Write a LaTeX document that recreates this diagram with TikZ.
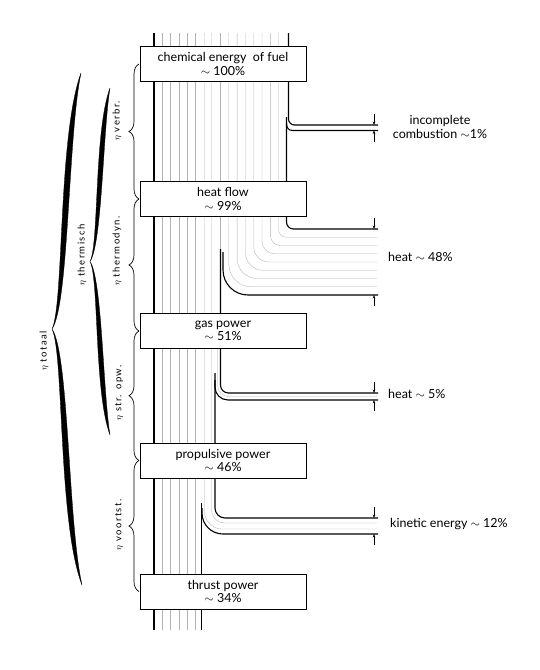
\documentclass[tikz,border=0pt]{standalone}
\usepackage{fontspec}
\setmainfont{Lato}
\newfontfamily\spacedfont[LetterSpace=15]{Lato}
\usetikzlibrary{decorations.pathreplacing,arrows.meta}
\begin{document}
\begin{tikzpicture}[x=1pt,y=-1pt,
  faint/.style={black!30, line width=0.35pt},
  boldline/.style={black, line width=1.1pt},
  stagebox/.style={draw, line width=0.6pt, fill=white, minimum width=166pt, minimum height=35pt, align=center, inner sep=1pt, font=\fontsize{12.5}{13.5}\selectfont},
  lbl/.style={font=\fontsize{12.5}{14}\selectfont, inner sep=0pt},
  etalbl/.style={rotate=90, font=\spacedfont\fontsize{9.5}{11}\selectfont, inner sep=0pt},
  dimarrow/.style={line width=0.5pt, -{Stealth[length=3.5pt,width=2.6pt]}},
  thinbrace/.style={decorate, decoration={brace, amplitude=10pt}, line width=0.7pt},
  calli/.style={fill=black, draw=black, line width=0.3pt}
]
\fill[white] (0,0) rectangle (540,670);
\path[use as bounding box] (0,0) rectangle (540,670);

% ---------- faint stream lines ----------
\foreach \k in {1,...,5}{
  \pgfmathsetmacro\xk{154+8.3125*\k}
  \draw[faint] (\xk,33) -- (\xk,630);
}
\draw[faint] (204.5,33) -- (204.5,512) .. controls (204.5,521.4) and (214.1,529) .. (221.5,529) -- (377,529);
\draw[faint] (211.5,33) -- (211.5,510) .. controls (211.5,517.2) and (217.3,523) .. (224.5,523) -- (377,523);
\draw[faint] (220.5,33) -- (220.5,249);
\foreach \k in {9,...,15}{
  \pgfmathsetmacro\xk{154+8.3125*\k}
  \pgfmathsetmacro\yk{295-(\k-8)*8.25}
  \pgfmathsetmacro\rk{25-(\k-8)*2.5}
  \pgfmathsetmacro\ya{\yk-\rk}
  \pgfmathsetmacro\yb{\yk-0.448*\rk}
  \pgfmathsetmacro\xb{\xk+0.448*\rk}
  \pgfmathsetmacro\xc{\xk+\rk}
  \draw[faint] (\xk,33) -- (\xk,\ya) .. controls (\xk,\yb) and (\xb,\yk) .. (\xc,\yk) -- (377,\yk);
}
\draw[faint] (217.8,313) -- (217.8,386) .. controls (217.8,391.8) and (222.5,396.5) .. (228.3,396.5) -- (377,396.5);

% ---------- bold stream edges ----------
\draw[boldline] (154,33) -- (154,630);
% incomplete combustion
\draw[boldline] (288.5,33) -- (288.5,119) .. controls (288.5,122.3) and (291.2,125) .. (294.5,125) -- (378,125);
\draw[boldline] (286.5,117) -- (286.5,222) .. controls (286.5,225.9) and (289.6,229) .. (293.5,229) -- (378,229);
\draw[boldline] (286.5,123) .. controls (286.5,128) and (288.5,130.5) .. (293,130.5) -- (378,130.5);
% heat 48 %
\draw[boldline] (223,252) -- (223,270) .. controls (223,283.8) and (234.2,295) .. (248,295) -- (378,295);
\draw[boldline] (220.5,249) -- (220.5,385) .. controls (220.5,389.4) and (224.1,393) .. (228.5,393) -- (378,393);
% heat 5 %
\draw[boldline] (215,373) -- (215,508) .. controls (215,513.5) and (219.5,518) .. (225,518) -- (378,518);
\draw[boldline] (215,380) -- (215,387) .. controls (215,394.2) and (220.8,400) .. (228,400) -- (378,400);
% kinetic energy
\draw[boldline] (201.5,503) -- (201.5,630);
\draw[boldline] (202,508) -- (202,513) .. controls (202,524.6) and (211.4,534) .. (223,534) -- (378,534);

% ---------- dimension arrows ----------
\draw[dimarrow] (374,114) -- (374,125);
\draw[dimarrow] (374,142) -- (374,130.5);
\draw[dimarrow] (374,218) -- (374,229);
\draw[dimarrow] (374,306) -- (374,295);
\draw[dimarrow] (374,382) -- (374,393);
\draw[dimarrow] (374,411) -- (374,400);
\draw[dimarrow] (374,507) -- (374,518);
\draw[dimarrow] (374,545) -- (374,534);

% ---------- boxes ----------
\node[stagebox] (chem) at (223,64) {chemical energy\ \ of fuel\\$\sim$ 100\%};
\node[stagebox] (heatflow) at (223,199) {heat flow\\$\sim$ 99\%};
\node[stagebox] (gas) at (223,331) {gas power\\$\sim$ 51\%};
\node[stagebox] (prop) at (223,460.5) {propulsive power\\$\sim$ 46\%};
\node[stagebox] (thrust) at (223,591.5) {thrust power\\$\sim$ 34\%};

% ---------- right labels ----------
\node[lbl, align=center] (inc) at (440,127) {incomplete\\combustion $\sim$1\%};
\node[lbl, anchor=west] (h48) at (388,257) {heat $\sim$ 48\%};
\node[lbl, anchor=west] (h5) at (388,394) {heat $\sim$ 5\%};
\node[lbl, anchor=west] (kin) at (390,524) {kinetic energy $\sim$ 12\%};

% ---------- inner braces ----------
\draw[thinbrace] (139,199) -- (139,64);
\draw[thinbrace] (139,331) -- (139,199);
\draw[thinbrace] (139,460.5) -- (139,331);
\draw[thinbrace] (139,591.5) -- (139,460.5);

\node[etalbl] (lverbr) at (117,121) {$\eta$ verbr.};
\node[etalbl] (lthermodyn) at (117,251) {$\eta$ thermodyn.};
\node[etalbl] (lstr) at (119,393) {$\eta$ str. opw.};
\node[etalbl] (lvoort) at (119,525) {$\eta$ voortst.};

% ---------- calligraphic braces ----------
% eta thermisch
\fill[calli] (110,88) .. controls (94,131) and (99,245) .. (90,261.5)
  .. controls (102,245) and (103,131) .. (110,88) -- cycle;
\fill[calli] (90,261.5) .. controls (99,278) and (94,392) .. (110,435)
  .. controls (103,392) and (102,278) .. (90,261.5) -- cycle;
% eta totaal
\fill[calli] (81,73) .. controls (58,135) and (64,305) .. (52,329)
  .. controls (69,305) and (68,135) .. (81,73) -- cycle;
\fill[calli] (52,329) .. controls (64,353) and (58,523) .. (82,585)
  .. controls (68,523) and (69,353) .. (52,329) -- cycle;

\node[etalbl] (ltherm) at (82,255) {$\eta$ thermisch};
\node[etalbl] (ltot) at (44,351) {$\eta$ totaal};
\end{tikzpicture}
\end{document}
